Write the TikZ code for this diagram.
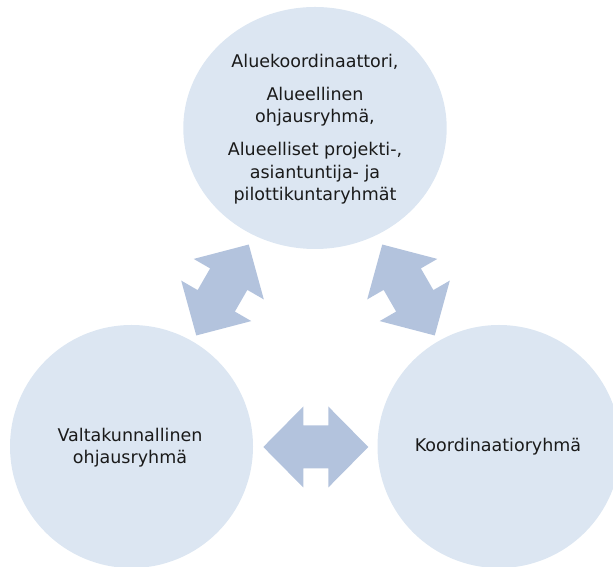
\documentclass[tikz,border=0pt]{standalone}
\usepackage{fontspec}
\setmainfont{DejaVu Sans}
\definecolor{circfill}{HTML}{DCE6F2}
\definecolor{arrfill}{HTML}{B3C3DD}
\definecolor{txt}{HTML}{1A1A1A}
\tikzset{
  group/.style={fill=circfill, draw=none},
  label text/.style={text=txt, align=center, font=\fontsize{17.5}{22.5}\selectfont},
  arrowshape/.style={fill=arrfill, draw=none}
}
\newcommand{\mydblarrow}[3]{%
  \begin{scope}[shift={(#1,#2)}, rotate=#3]
    \fill[arrowshape] (-52.5,0) -- (-12.5,40.5) -- (-12.5,21.5) -- (12.5,21.5) -- (12.5,40.5)
      -- (52.5,0) -- (12.5,-40.5) -- (12.5,-21.5) -- (-12.5,-21.5) -- (-12.5,-40.5) -- cycle;
  \end{scope}}
\begin{document}
\begin{tikzpicture}[x=1pt, y=1pt]
  \useasboundingbox (0,0) rectangle (613,567);
  \clip (0,0) rectangle (613,567);
  % circles
  \fill[group] (315,439) ellipse [x radius=131.7, y radius=121];
  \fill[group] (131.5,120.5) circle [radius=121.5];
  \fill[group] (499,120.5) circle [radius=121.5];
  \coordinate (top) at (315,439);
  \coordinate (left) at (131.5,120.5);
  \coordinate (right) at (499,120.5);
  % arrows
  \mydblarrow{222.5}{277}{60}
  \mydblarrow{408.5}{277}{120}
  \mydblarrow{315.8}{120}{0}
  % texts
  \node[label text] (ttop) at (315,438) {Aluekoordinaattori,\\[10.5pt]Alueellinen\\ohjausryhmä,\\[10.5pt]Alueelliset projekti-,\\asiantuntija- ja\\pilottikuntaryhmät};
  \node[label text] (tleft) at (130,119.5) {Valtakunnallinen\\ohjausryhmä};
  \node[label text] (tright) at (498,120) {Koordinaatioryhmä};
\end{tikzpicture}
\end{document}
